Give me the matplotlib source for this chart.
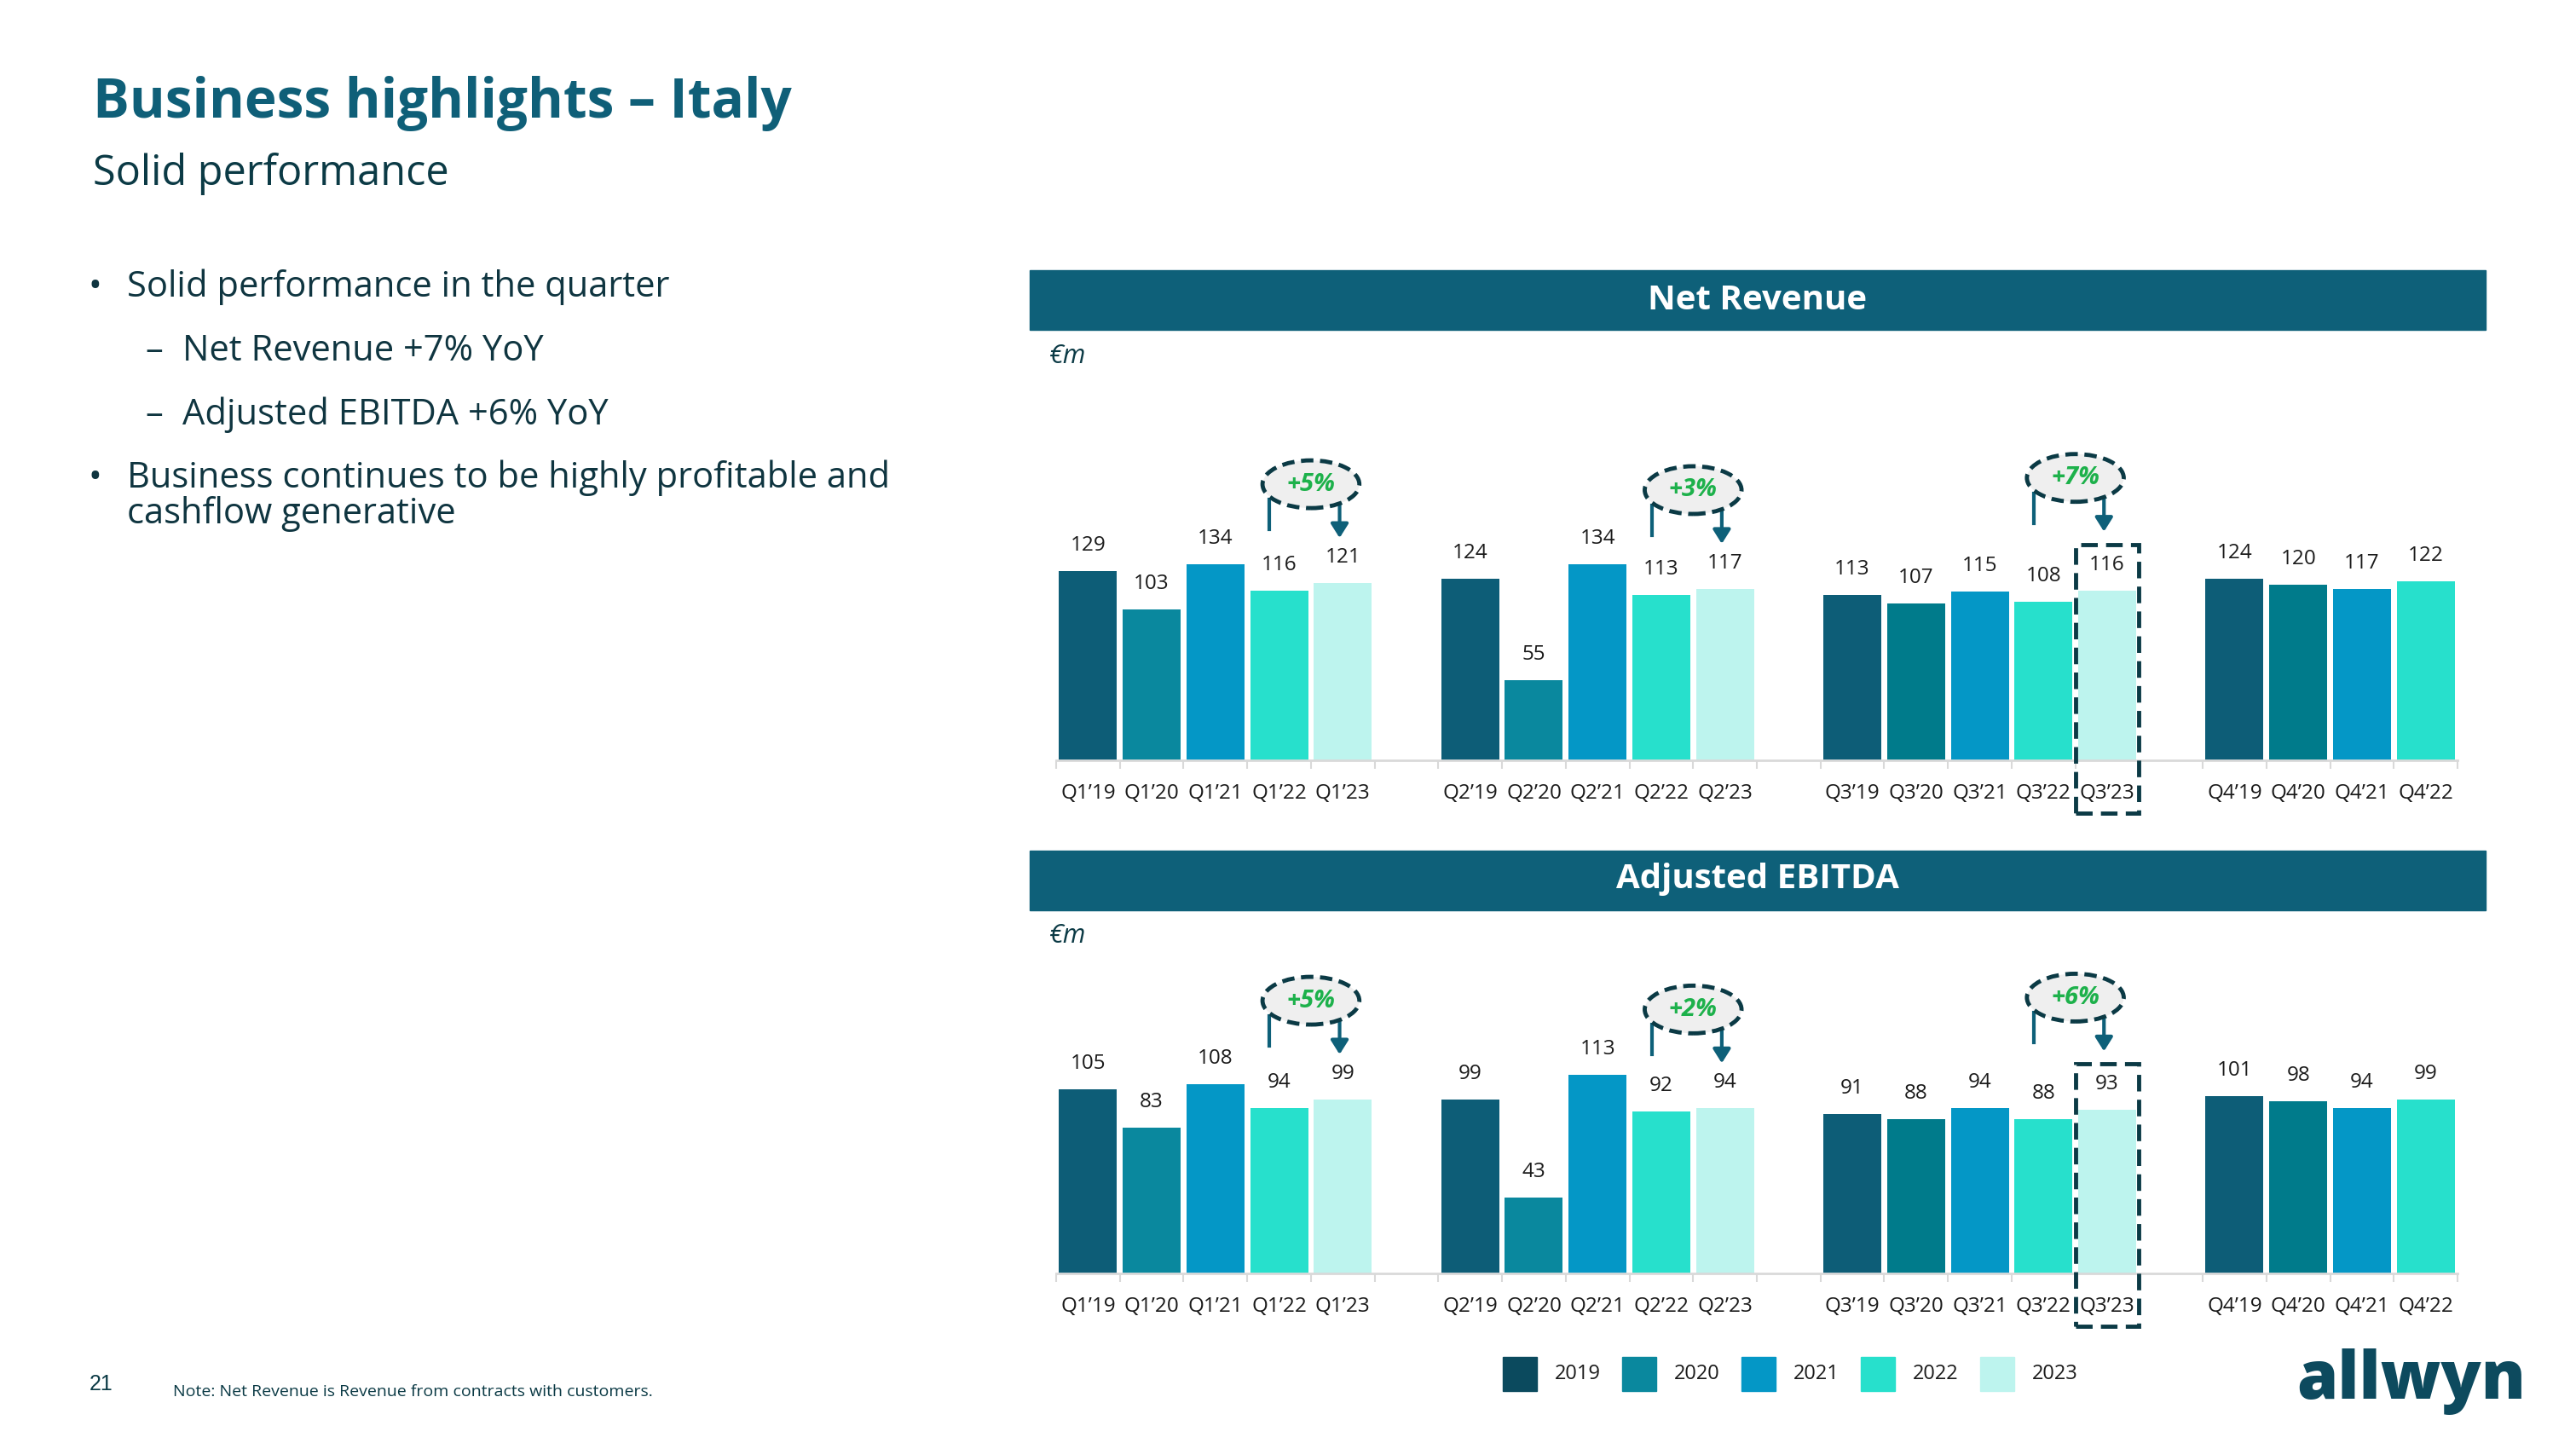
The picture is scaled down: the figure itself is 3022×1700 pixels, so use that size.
import numpy as np
import matplotlib.pyplot as plt
from matplotlib.patches import Ellipse, Rectangle

plt.rcParams['font.family'] = ['Open Sans', 'DejaVu Sans']

W, H = 3022, 1700

years = ['2019', '2020', '2021', '2022', '2023']
quarters = ['Q1', 'Q2', 'Q3', 'Q4']

# Net revenue, €m (2019 -> 2023 for each quarter)
rev_q1 = [129, 103, 134, 116, 121]
rev_q2 = [124, 55, 134, 113, 117]
rev_q3 = [113, 107, 115, 108, 116]
rev_q4 = [124, 120, 117, 122]
rev_growth = ['+5%', '+3%', '+7%']

# Adjusted EBITDA, €m
ebitda_q1 = [105, 83, 108, 94, 99]
ebitda_q2 = [99, 43, 113, 92, 94]
ebitda_q3 = [91, 88, 94, 88, 93]
ebitda_q4 = [101, 98, 94, 99]
ebitda_growth = ['+5%', '+2%', '+6%']

bar_colors = ['#0d5d77', '#0a889e', '#0497c6', '#27e0cc', '#bdf4ee']
legend_colors = ['#0b4a5e', '#0a889e', '#0497c6', '#27e0cc', '#bdf4ee']
late_2020 = '#007b8b'
teal = '#0e6079'
dark = '#0b3a45'
ink = '#1a1a1a'

fig = plt.figure(figsize=(W / 100, H / 100), dpi=100)


def fx(px):
    return px / W


def fy(py):
    return 1 - py / H


def px_rect(x0, y0, x1, y1, **kw):
    fig.patches.append(Rectangle((fx(x0), fy(y1)), (x1 - x0) / W, (y1 - y0) / H,
                                 transform=fig.transFigure, **kw))


def panel(top, base, ppu, groups, growth):
    ax = fig.add_axes([fx(1239), fy(base), (2883 - 1239) / W, (base - top) / H])
    ax.set_xlim(-0.5, 21.5)
    ax.set_ylim(0, (base - top) / ppu)
    ax.set_facecolor('none')
    for s in ['top', 'right', 'left']:
        ax.spines[s].set_visible(False)
    ax.spines['bottom'].set_color('#d9d9d9')
    ax.spines['bottom'].set_linewidth(2)
    ax.set_xticks(np.arange(-0.5, 22, 1))
    ax.set_xticklabels([])
    ax.tick_params(axis='x', length=7, width=1.5, color='#d9d9d9')
    ax.set_yticks([])

    for g, vals in enumerate(groups):
        xs = g * 6 + np.arange(len(vals))
        cols = list(bar_colors[:len(vals)])
        if g >= 2:
            cols[1] = late_2020
        ax.bar(xs, vals, width=0.91, color=cols, zorder=2)
        for x, v, yr in zip(xs, vals, years):
            ax.annotate(str(v), (x, v), xytext=(0, 30), textcoords='offset pixels',
                        ha='center', va='center', fontsize=17.5, color=ink)
            ax.annotate(f"{quarters[g]}’{yr[2:]}", (x, 0), xytext=(0, -39),
                        textcoords='offset pixels', ha='center', va='center',
                        fontsize=17.5, color=ink, annotation_clip=False)

    # YoY growth bubbles
    for g, txt in enumerate(growth):
        x22 = g * 6 + 3
        x23 = g * 6 + 4
        lift = 132 if g == 2 else 116
        yc = groups[g][4] + lift / ppu
        ax.add_patch(Ellipse((x22 + 0.5, yc), 1.52, 56 / ppu, facecolor='#efefef',
                             edgecolor=dark, lw=3.5, ls=(0, (3, 1.6)), zorder=4))
        ax.text(x22 + 0.5, yc, txt, ha='center', va='center', color='#1db14b',
                fontsize=21, fontweight='bold', fontstyle='italic', zorder=5)
        ax.plot([x22 - 0.15] * 2, [yc - 18 / ppu, yc - 53 / ppu], color=teal, lw=3, zorder=3)
        ax.annotate('', xy=(x23 - 0.05, yc - 63 / ppu), xytext=(x23 - 0.05, yc - 18 / ppu),
                    arrowprops=dict(arrowstyle='-|>,head_length=0.35,head_width=0.22',
                                    color=teal, lw=3, mutation_scale=28,
                                    shrinkA=0, shrinkB=0), zorder=3)

    # dashed box on the latest quarter
    v = groups[2][4]
    ax.add_patch(Rectangle((15.5, -62 / ppu), 1.0, v + (54 + 62) / ppu, fill=False,
                           edgecolor=dark, lw=3.5, ls=(0, (4, 2)), clip_on=False, zorder=6))
    return ax


# header texts
fig.text(fx(109), fy(138), 'Business highlights – Italy', fontsize=46, fontweight='bold',
         color='#0f5f78', va='baseline')
fig.text(fx(109), fy(217), 'Solid performance', fontsize=35, color=dark, va='baseline')

body = '#0f3540'
bullets = [(348, '•', 'Solid performance in the quarter'),
           (423, '–', 'Net Revenue +7% YoY'),
           (498, '–', 'Adjusted EBITDA +6% YoY'),
           (572, '•', 'Business continues to be highly profitable and'),
           (614, '', 'cashflow generative')]
for y, mark, txt in bullets:
    if mark == '•':
        fig.text(fx(111), fy(y), mark, fontsize=30, color=body, va='baseline', ha='center')
        fig.text(fx(149), fy(y), txt, fontsize=30, color=body, va='baseline')
    elif mark == '–':
        fig.text(fx(181), fy(y), mark, fontsize=30, color=body, va='baseline', ha='center')
        fig.text(fx(214), fy(y), txt, fontsize=30, color=body, va='baseline')
    else:
        fig.text(fx(149), fy(y), txt, fontsize=30, color=body, va='baseline')

# section bands
px_rect(1208, 317, 2916, 387, color=teal)
fig.text(fx(2062), fy(363), 'Net Revenue', fontsize=29, fontweight='bold', color='white',
         ha='center', va='baseline')
fig.text(fx(1230), fy(426), '€m', fontsize=22, fontstyle='italic', color=dark, va='baseline')

px_rect(1208, 998, 2916, 1068, color=teal)
fig.text(fx(2062), fy(1042), 'Adjusted EBITDA', fontsize=29, fontweight='bold', color='white',
         ha='center', va='baseline')
fig.text(fx(1230), fy(1106), '€m', fontsize=22, fontstyle='italic', color=dark, va='baseline')

panel(430, 892, 1.718, [rev_q1, rev_q2, rev_q3, rev_q4], rev_growth)
panel(1110, 1494, 2.06, [ebitda_q1, ebitda_q2, ebitda_q3, ebitda_q4], ebitda_growth)

# legend
for i, (yr, c) in enumerate(zip(years, legend_colors)):
    x0 = 1763 + i * 140
    px_rect(x0, 1592, x0 + 40, 1632, color=c)
    fig.text(fx(x0 + 61), fy(1612), yr, fontsize=17, color=ink, va='center')

# footer
fig.text(fx(105), fy(1631), '21', fontsize=18, color=dark, va='baseline',
         family=['Liberation Sans', 'DejaVu Sans'])
fig.text(fx(203), fy(1638), 'Note: Net Revenue is Revenue from contracts with customers.',
         fontsize=14, color=dark, va='baseline')
fig.text(fx(2694), fy(1641), 'allwyn', fontsize=56, fontweight='heavy', color='#0d4a5e',
         va='baseline')

fig.savefig('out.png', dpi=100)
